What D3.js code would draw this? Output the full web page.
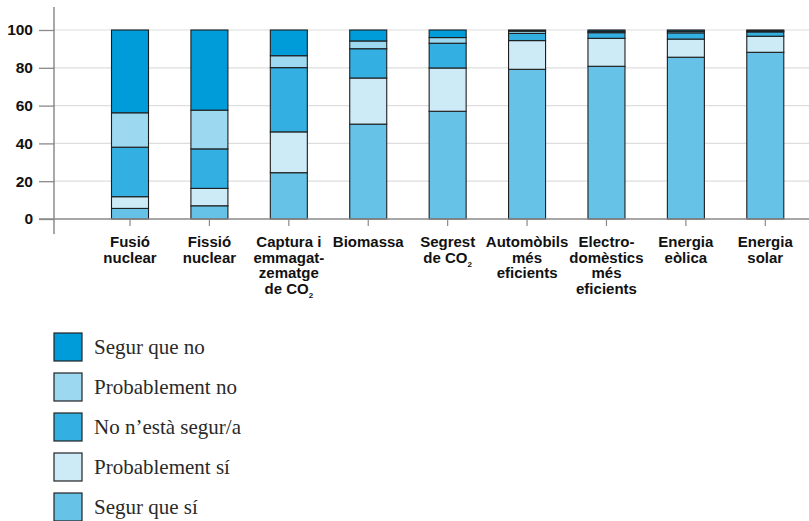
<!DOCTYPE html>
<html>
<head>
<meta charset="utf-8">
<script src="https://cdn.jsdelivr.net/npm/d3@7"></script>
<style>
  html, body { margin: 0; padding: 0; background: #fff; }
  svg { display: block; }
</style>
</head>
<body>
<svg id="chart" width="809" height="521"></svg>
<script>
// ---- Data ----
const categories = ["Fusió nuclear", "Fissió nuclear", "Captura i emmagatzematge de CO₂", "Biomassa",
  "Segrest de CO₂", "Automòbils més eficients", "Electrodomèstics més eficients", "Energia eòlica", "Energia solar"];
const categoryLines = [
  ["Fusió", "nuclear"],
  ["Fissió", "nuclear"],
  ["Captura i", "emmagat-", "zematge", "de CO₂"],
  ["Biomassa"],
  ["Segrest", "de CO₂"],
  ["Automòbils", "més", "eficients"],
  ["Electro-", "domèstics", "més", "eficients"],
  ["Energia", "eòlica"],
  ["Energia", "solar"]
];
// stacked bottom -> top
const seriesNames = ["Segur que sí", "Probablement sí", "No n’està segur/a", "Probablement no", "Segur que no"];
const segurSi       = [5.6, 7.0, 24.5, 50.2, 57.0, 79.2, 80.8, 85.6, 88.2];
const probablementSi = [6.2, 9.2, 21.6, 24.4, 22.9, 15.2, 14.8, 9.6, 8.5];
const noSegur       = [26.2, 20.9, 34.0, 15.5, 13.1, 3.8, 3.0, 3.3, 2.3];
const probablementNo = [18.2, 20.5, 6.3, 4.1, 3.0, 1.2, 0.7, 0.8, 0.4];
const segurNo       = [43.8, 42.4, 13.6, 5.8, 4.0, 0.6, 0.7, 0.7, 0.6];
const yTicks = [0, 20, 40, 60, 80, 100];
const colors = ["#66c2e7", "#cdebf7", "#33afe1", "#9dd8f1", "#009bd9"];
// legend order (top -> bottom)
const legendOrder = [4, 3, 2, 1, 0];

// ---- Build table ----
const seriesValues = [segurSi, probablementSi, noSegur, probablementNo, segurNo];
const table = categories.map((c, i) => {
  const row = { cat: c };
  seriesNames.forEach((s, k) => row[s] = seriesValues[k][i]);
  return row;
});
const stacked = d3.stack().keys(seriesNames)(table);

const svg = d3.select("#chart");

// ---- Scales ----
const x = d3.scaleBand().domain(categories).range([90.3, 805]).paddingInner(0.534).paddingOuter(0.267);
const y = d3.scaleLinear().domain([0, 100]).range([219, 30]);

// gridlines
svg.append("g")
  .selectAll("line")
  .data(yTicks.filter(d => d > 0))
  .join("line")
  .attr("x1", 54).attr("x2", 809)
  .attr("y1", d => y(d)).attr("y2", d => y(d))
  .attr("stroke", "#dedede").attr("stroke-width", 1.2);

// bars
svg.append("g")
  .selectAll("g")
  .data(stacked)
  .join("g")
  .attr("fill", (d, k) => colors[k])
  .selectAll("rect")
  .data(d => d)
  .join("rect")
  .attr("x", d => x(d.data.cat))
  .attr("width", x.bandwidth())
  .attr("y", d => y(d[1]))
  .attr("height", d => y(d[0]) - y(d[1]))
  .attr("stroke", "#1e1e1e")
  .attr("stroke-width", 1.1);

// y axis
const yAxis = svg.append("g").attr("transform", "translate(54,0)")
  .call(d3.axisLeft(y).tickValues(yTicks).tickSize(15).tickPadding(6));
yAxis.select(".domain").remove();
yAxis.selectAll(".tick line").attr("stroke", "#8a8a8a").attr("stroke-width", 1.3);
yAxis.selectAll(".tick text")
  .attr("font-family", "'Liberation Sans', Arial, sans-serif")
  .attr("font-weight", "bold").attr("font-size", 15.5).attr("fill", "#111");

// y axis line
svg.append("line").attr("x1", 54).attr("x2", 54).attr("y1", 7).attr("y2", 234)
  .attr("stroke", "#7a7a7a").attr("stroke-width", 1.3);
// baseline
svg.append("line").attr("x1", 39).attr("x2", 809).attr("y1", y(0)).attr("y2", y(0))
  .attr("stroke", "#8a8a8a").attr("stroke-width", 1.3);

// x axis ticks + labels
const xAxis = svg.append("g").attr("transform", `translate(0,${y(0)})`)
  .call(d3.axisBottom(x).tickSize(7).tickFormat(""));
xAxis.select(".domain").remove();
xAxis.selectAll(".tick line").attr("stroke", "#8a8a8a").attr("stroke-width", 1.2);

const lbl = svg.append("g")
  .attr("font-family", "'Liberation Sans', Arial, sans-serif")
  .attr("font-weight", "bold").attr("font-size", 15).attr("fill", "#111")
  .attr("text-anchor", "middle");
categories.forEach((c, i) => {
  const cx = x(c) + x.bandwidth() / 2;
  const t = lbl.append("text").attr("x", cx).attr("y", 247);
  categoryLines[i].forEach((line, j) => {
    const parts = line.split("₂");
    t.append("tspan").attr("x", cx).attr("dy", j === 0 ? 0 : 15.5).text(parts[0]);
    if (parts.length > 1) {
      t.append("tspan").attr("font-size", 8).attr("dy", 4).text("2");
      t.append("tspan").attr("dy", -4).text("");
    }
  });
});

// legend
const leg = svg.append("g");
legendOrder.forEach((k, i) => {
  leg.append("rect").attr("x", 54).attr("y", 333 + i * 40).attr("width", 28).attr("height", 28)
    .attr("fill", colors[k]).attr("stroke", "#222").attr("stroke-width", 1.2);
  leg.append("text").attr("x", 94).attr("y", 354 + i * 40)
    .attr("font-family", "'Liberation Serif', 'Times New Roman', serif")
    .attr("font-size", 21).attr("fill", "#2a2a2a")
    .text(seriesNames[k]);
});
</script>
</body>
</html>
